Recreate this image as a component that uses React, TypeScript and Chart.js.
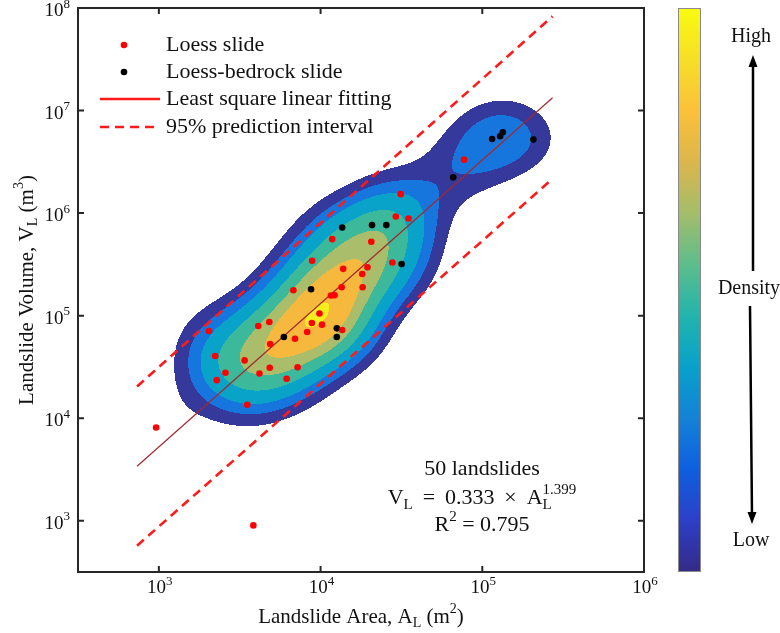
import React, { useEffect, useRef } from "react";
import { Chart, registerables } from "chart.js";

Chart.register(...registerables);

// ---------------- data ----------------
const loessArea = [77100, 31300, 29200, 35000, 11800, 20600, 8870, 13800, 19500, 18100, 27800, 6790, 13500, 18200, 11600, 12200, 9840, 8830, 10200, 13600, 8260, 6950, 4120, 4820, 2040, 4880, 2230, 3390, 4850, 7210, 2580, 2280, 4190, 6170, 3520, 962, 3840];
const loessVolume = [3320000, 1530000, 927000, 887000, 557000, 525000, 342000, 286000, 296000, 255000, 330000, 177000, 189000, 189000, 157000, 158000, 105000, 84700, 81700, 72400, 69200, 59600, 79300, 86700, 70800, 52800, 40400, 36600, 31000, 31300, 27700, 23500, 27300, 24200, 13500, 8110, 900];
const bedrockArea = [66100, 115000, 129000, 134000, 207000, 13600, 20800, 25500, 31700, 8730, 12600, 12600, 5930];
const bedrockVolume = [2230000, 5280000, 5610000, 6140000, 5210000, 724000, 764000, 764000, 318000, 181000, 75200, 61900, 61900];

const fitArea = [733, 272000];
const fitVolume = [3400, 13350000];
const upperVolume = [20400, 83000000];
const lowerVolume = [570, 2160000];

const xRange = [316.2, 1000000];
const yRange = [316.2, 100000000];
const xTickValues = [1e3, 1e4, 1e5, 1e6];
const xTickExps = ["3", "4", "5", "6"];
const yTickValues = [1e3, 1e4, 1e5, 1e6, 1e7, 1e8];
const yTickExps = ["3", "4", "5", "6", "7", "8"];

// density contour settings (log-decade kernel widths, level fractions of peak)
const bandwidth = [0.21, 0.29];
const levelFractions = [0.15, 0.245, 0.345, 0.495, 0.655, 0.8, 0.98];
const levelColors = ["#35399b", "#1776dd", "#09a3ca", "#3cb89b", "#a9bd6b", "#f7b83e", "#f5ee1f"];
const colorbarStops = ["#352a87", "#2c3fc6", "#0e5fe0", "#1482d6", "#08a1cb", "#22b4ad", "#5dbd8c", "#a4bd6a", "#dcb64c", "#fbc13a", "#f6df27", "#f9fb0e"];

const FONT = '"Liberation Serif", "Times New Roman", serif';

type Seg = { t: string; k?: "sup" | "sub"; sup?: string };

function fnt(size: number) {
  return `${size}px ${FONT}`;
}

function richWidth(ctx: CanvasRenderingContext2D, segs: Seg[], size: number) {
  const small = Math.round(size * 0.68);
  let w = 0;
  for (const s of segs) {
    if (s.k) {
      ctx.font = fnt(small);
      let sw = ctx.measureText(s.t).width;
      if (s.sup) sw = Math.max(sw, ctx.measureText(s.sup).width);
      w += sw;
    } else {
      ctx.font = fnt(size);
      w += ctx.measureText(s.t).width;
    }
  }
  return w;
}

function drawRich(ctx: CanvasRenderingContext2D, segs: Seg[], x: number, y: number, size: number, align: "left" | "center" | "right") {
  const small = Math.round(size * 0.68);
  const w = richWidth(ctx, segs, size);
  let cx = align === "left" ? x : align === "right" ? x - w : x - w / 2;
  ctx.textAlign = "left";
  ctx.textBaseline = "middle";
  for (const s of segs) {
    if (s.k) {
      ctx.font = fnt(small);
      const dy = s.k === "sup" ? -size * 0.36 : size * 0.3;
      ctx.fillText(s.t, cx, y + dy);
      let sw = ctx.measureText(s.t).width;
      if (s.sup) {
        ctx.fillText(s.sup, cx, y - size * 0.36);
        sw = Math.max(sw, ctx.measureText(s.sup).width);
      }
      cx += sw;
    } else {
      ctx.font = fnt(size);
      ctx.fillText(s.t, cx, y);
      cx += ctx.measureText(s.t).width;
    }
  }
}

function hexRgb(h: string) {
  const v = parseInt(h.slice(1), 16);
  return [(v >> 16) & 255, (v >> 8) & 255, v & 255];
}

const densityPlugin = {
  id: "densityContours",
  beforeDatasetsDraw(chart: any) {
    const { ctx, chartArea: a, scales } = chart;
    const xs = scales.x;
    const ys = scales.y;
    const left = Math.round(a.left);
    const top = Math.round(a.top);
    const w = Math.round(a.right) - left;
    const h = Math.round(a.bottom) - top;
    if (!chart.$densityImg) {
      const pxs = loessArea.concat(bedrockArea).map((v) => Math.log10(v));
      const pys = loessVolume.concat(bedrockVolume).map((v) => Math.log10(v));
      const n = pxs.length;
      const ex = new Float32Array(n * w);
      const ey = new Float32Array(n * h);
      for (let c = 0; c < w; c++) {
        const lx = Math.log10(xs.getValueForPixel(left + c + 0.5));
        for (let i = 0; i < n; i++) {
          const d = (lx - pxs[i]) / bandwidth[0];
          ex[i * w + c] = Math.exp(-0.5 * d * d);
        }
      }
      for (let r = 0; r < h; r++) {
        const ly = Math.log10(ys.getValueForPixel(top + r + 0.5));
        for (let i = 0; i < n; i++) {
          const d = (ly - pys[i]) / bandwidth[1];
          ey[i * h + r] = Math.exp(-0.5 * d * d);
        }
      }
      const dens = new Float32Array(w * h);
      for (let i = 0; i < n; i++) {
        for (let r = 0; r < h; r++) {
          const eyv = ey[i * h + r];
          if (eyv < 1e-7) continue;
          const base = r * w;
          const xo = i * w;
          for (let c = 0; c < w; c++) dens[base + c] += eyv * ex[xo + c];
        }
      }
      let max = 0;
      for (let k = 0; k < dens.length; k++) if (dens[k] > max) max = dens[k];
      const cols = levelColors.map(hexRgb);
      const off = document.createElement("canvas");
      off.width = w;
      off.height = h;
      const octx = off.getContext("2d")!;
      const img = octx.createImageData(w, h);
      for (let k = 0; k < dens.length; k++) {
        const f = dens[k] / max;
        let lev = 0;
        for (let j = 0; j < levelFractions.length; j++) if (f >= levelFractions[j]) lev = j + 1;
        if (lev === 0) continue;
        const col = cols[lev - 1];
        img.data[k * 4] = col[0];
        img.data[k * 4 + 1] = col[1];
        img.data[k * 4 + 2] = col[2];
        img.data[k * 4 + 3] = 255;
      }
      octx.putImageData(img, 0, 0);
      chart.$densityImg = off;
    }
    ctx.drawImage(chart.$densityImg, left, top);
  },
};

const decorPlugin = {
  id: "decor",
  afterDraw(chart: any) {
    const { ctx, chartArea: a, scales } = chart;
    const xs = scales.x;
    const ys = scales.y;
    ctx.save();
    ctx.fillStyle = "#000";
    ctx.strokeStyle = "#262626";
    // frame
    ctx.lineWidth = 2;
    ctx.strokeRect(a.left, a.top, a.right - a.left, a.bottom - a.top);
    // ticks
    ctx.lineWidth = 2;
    ctx.beginPath();
    xTickValues.forEach((v) => {
      const x = xs.getPixelForValue(v);
      if (x > a.left + 2 && x < a.right - 2) {
        ctx.moveTo(x, a.bottom);
        ctx.lineTo(x, a.bottom - 6);
        ctx.moveTo(x, a.top);
        ctx.lineTo(x, a.top + 6);
      }
    });
    yTickValues.forEach((v) => {
      const y = ys.getPixelForValue(v);
      if (y > a.top + 2 && y < a.bottom - 2) {
        ctx.moveTo(a.left, y);
        ctx.lineTo(a.left + 6, y);
        ctx.moveTo(a.right, y);
        ctx.lineTo(a.right - 6, y);
      }
    });
    ctx.stroke();
    // tick labels
    ctx.fillStyle = "#111";
    xTickValues.forEach((v, i) => {
      const x = xs.getPixelForValue(v);
      drawRich(ctx, [{ t: "10" }, { t: xTickExps[i], k: "sup" }], x + 1, a.bottom + 16, 19, "center");
    });
    yTickValues.forEach((v, i) => {
      const y = ys.getPixelForValue(v);
      drawRich(ctx, [{ t: "10" }, { t: yTickExps[i], k: "sup" }], a.left - 8, y + 3, 19, "right");
    });
    // axis titles
    drawRich(
      ctx,
      [{ t: "Landslide Area, A" }, { t: "L", k: "sub" }, { t: " (m" }, { t: "2", k: "sup" }, { t: ")" }],
      (a.left + a.right) / 2,
      617,
      21,
      "center"
    );
    ctx.save();
    ctx.translate(27, (a.top + a.bottom) / 2);
    ctx.rotate(-Math.PI / 2);
    drawRich(
      ctx,
      [{ t: "Landslide Volume, V" }, { t: "L", k: "sub" }, { t: " (m" }, { t: "3", k: "sup" }, { t: ")" }],
      0,
      0,
      21,
      "center"
    );
    ctx.restore();

    // legend
    const lx0 = 100;
    const lx1 = 160;
    const tx = 166;
    const rows = [45, 72, 99, 127];
    ctx.fillStyle = "#ff0000";
    ctx.beginPath();
    ctx.arc(124, rows[0], 3.3, 0, Math.PI * 2);
    ctx.fill();
    ctx.fillStyle = "#000";
    ctx.beginPath();
    ctx.arc(124, rows[1], 3.3, 0, Math.PI * 2);
    ctx.fill();
    ctx.strokeStyle = "#ff1a1a";
    ctx.lineWidth = 2.6;
    ctx.beginPath();
    ctx.moveTo(lx0, rows[2]);
    ctx.lineTo(lx1, rows[2]);
    ctx.stroke();
    ctx.setLineDash([9, 6]);
    ctx.beginPath();
    ctx.moveTo(lx0, rows[3]);
    ctx.lineTo(lx1, rows[3]);
    ctx.stroke();
    ctx.setLineDash([]);
    ctx.fillStyle = "#111";
    const labels = chart.data.datasets.map((d: any) => d.label);
    [labels[0], labels[1], labels[2], labels[3]].forEach((t: string, i: number) => {
      drawRich(ctx, [{ t }], tx, rows[i], 22, "left");
    });

    // annotation
    const ax = 482;
    drawRich(ctx, [{ t: "50 landslides" }], ax, 469, 22, "center");
    drawRich(
      ctx,
      [{ t: "V" }, { t: "L", k: "sub" }, { t: " \u2009=\u2009 0.333\u2009 ×\u2009 A" }, { t: "L", k: "sub", sup: "1.399" }],
      ax,
      498,
      22,
      "center"
    );
    drawRich(ctx, [{ t: "R" }, { t: "2", k: "sup" }, { t: " = 0.795" }], ax, 525, 22, "center");

    // colorbar
    const cbL = 678;
    const cbR = 701;
    const g = ctx.createLinearGradient(0, a.bottom, 0, a.top);
    colorbarStops.forEach((c, i) => g.addColorStop(i / (colorbarStops.length - 1), c));
    ctx.fillStyle = g;
    ctx.fillRect(cbL, a.top, cbR - cbL, a.bottom - a.top);
    ctx.strokeStyle = "#8a8a8a";
    ctx.lineWidth = 1;
    ctx.strokeRect(cbL + 0.5, a.top + 0.5, cbR - cbL - 1, a.bottom - a.top - 1);

    ctx.fillStyle = "#111";
    drawRich(ctx, [{ t: "High" }], 751, 37, 20, "center");
    drawRich(ctx, [{ t: "Density" }], 749, 289, 20, "center");
    drawRich(ctx, [{ t: "Low" }], 751, 541, 20, "center");
    // arrows
    ctx.strokeStyle = "#000";
    ctx.fillStyle = "#000";
    ctx.lineWidth = 2.5;
    ctx.beginPath();
    ctx.moveTo(753, 271);
    ctx.lineTo(753, 64);
    ctx.moveTo(750, 306);
    ctx.lineTo(752, 516);
    ctx.stroke();
    ctx.beginPath();
    ctx.moveTo(753, 55);
    ctx.lineTo(748.5, 67);
    ctx.lineTo(757.5, 67);
    ctx.closePath();
    ctx.fill();
    ctx.beginPath();
    ctx.moveTo(752, 524);
    ctx.lineTo(747.5, 512);
    ctx.lineTo(756.5, 512);
    ctx.closePath();
    ctx.fill();
    ctx.restore();
  },
};

export default function App() {
  const ref = useRef<HTMLCanvasElement | null>(null);
  useEffect(() => {
    if (!ref.current) return;
    const chart = new Chart(ref.current, {
      type: "scatter",
      data: {
        datasets: [
          {
            label: "Loess slide",
            data: loessArea.map((x, i) => ({ x, y: loessVolume[i] })),
            backgroundColor: "#ff0000",
            borderWidth: 0,
            pointRadius: 3.3,
            pointHoverRadius: 3.3,
          },
          {
            label: "Loess-bedrock slide",
            data: bedrockArea.map((x, i) => ({ x, y: bedrockVolume[i] })),
            backgroundColor: "#000000",
            borderWidth: 0,
            pointRadius: 3.3,
            pointHoverRadius: 3.3,
          },
          {
            label: "Least square linear fitting",
            data: fitArea.map((x, i) => ({ x, y: fitVolume[i] })),
            showLine: true,
            borderColor: "#a3282e",
            borderWidth: 1.2,
            pointRadius: 0,
          },
          {
            label: "95% prediction interval",
            data: fitArea.map((x, i) => ({ x, y: upperVolume[i] })),
            showLine: true,
            borderColor: "#ff1a1a",
            borderWidth: 2.6,
            borderDash: [9, 6],
            pointRadius: 0,
          },
          {
            label: "95% prediction interval (lower)",
            data: fitArea.map((x, i) => ({ x, y: lowerVolume[i] })),
            showLine: true,
            borderColor: "#ff1a1a",
            borderWidth: 2.6,
            borderDash: [9, 6],
            pointRadius: 0,
          },
        ],
      } as any,
      options: {
        responsive: false,
        animation: false,
        devicePixelRatio: 1,
        events: [],
        layout: { padding: { left: 78, right: 136, top: 8, bottom: 61 } },
        scales: {
          x: { type: "logarithmic", min: xRange[0], max: xRange[1], display: false },
          y: { type: "logarithmic", min: yRange[0], max: yRange[1], display: false },
        },
        plugins: { legend: { display: false }, tooltip: { enabled: false } },
      } as any,
      plugins: [densityPlugin, decorPlugin],
    });
    return () => chart.destroy();
  }, []);
  return (
    <div style={{ position: "fixed", left: 0, top: 0, width: 780, height: 633, background: "#fff" }}>
      <canvas ref={ref} width={780} height={633} style={{ display: "block", width: 780, height: 633 }} />
    </div>
  );
}
